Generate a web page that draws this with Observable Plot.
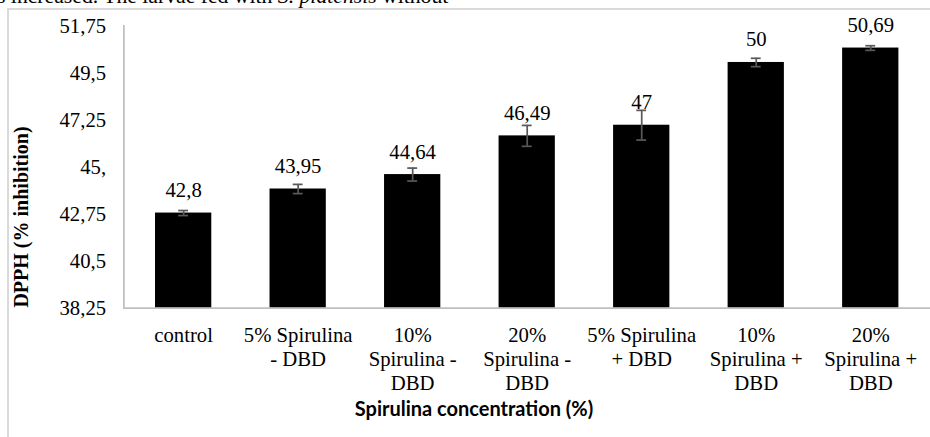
<!DOCTYPE html>
<html>
<head>
<meta charset="utf-8">
<script src="https://cdn.jsdelivr.net/npm/d3@7"></script>
<script src="https://cdn.jsdelivr.net/npm/@observablehq/plot@0.6"></script>
<style>
  html, body { margin: 0; padding: 0; width: 930px; height: 437px; overflow: hidden; background: #fff; }
  #wrap { position: relative; width: 930px; height: 437px; overflow: hidden; }
  #chart { position: absolute; left: 0; top: 0; }
  #frame { position: absolute; left: 7px; top: 8px; width: 940px; height: 440px;
           border-left: 2px solid #d9d9d9; border-top: 2px solid #d9d9d9; box-sizing: border-box; }
  #toptext { position: absolute; left: -3px; top: -14.5px; font-family: "Liberation Serif", serif;
             font-size: 21.7px; line-height: 21.7px; white-space: nowrap; color: #000; }
  #ytitle { position: absolute; left: 21px; top: 217px; transform: translate(-50%, -50%) rotate(-90deg);
            font-family: "Liberation Serif", serif; font-weight: bold; font-size: 20px; white-space: nowrap; }
  #xtitle { position: absolute; left: 474px; top: 408px; transform: translate(-50%, -50%);
            font-family: Lato, "Open Sans", sans-serif; font-weight: bold; font-size: 20px; white-space: nowrap; }
</style>
</head>
<body>
<div id="wrap">
  <div id="toptext">s increased. The larvae fed with <i>S. platensis</i> without</div>
  <div id="frame"></div>
  <div id="chart"></div>
  <div id="ytitle">DPPH (% inhibition)</div>
  <div id="xtitle">Spirulina concentration (%)</div>
</div>
<script>
const categories = ["control", "5% Spirulina - DBD", "10% Spirulina - DBD", "20% Spirulina - DBD",
                    "5% Spirulina + DBD", "10% Spirulina + DBD", "20% Spirulina + DBD"];
const categoryLabels = ["control", "5% Spirulina\n- DBD", "10%\nSpirulina -\nDBD", "20%\nSpirulina -\nDBD",
                        "5% Spirulina\n+ DBD", "10%\nSpirulina +\nDBD", "20%\nSpirulina +\nDBD"];
const values = [42.8, 43.95, 44.64, 46.49, 47, 50, 50.69];
const valueLabels = ["42,8", "43,95", "44,64", "46,49", "47", "50", "50,69"];
const errors = [0.12, 0.22, 0.31, 0.5, 0.71, 0.2, 0.11];
const yTicks = [38.25, 40.5, 42.75, 45, 47.25, 49.5, 51.75];
const yTickLabels = ["38,25", "40,5", "42,75", "45,", "47,25", "49,5", "51,75"];

const data = categories.map((c, i) => ({
  cat: c, value: values[i], label: valueLabels[i], lo: values[i] - errors[i], hi: values[i] + errors[i]
}));
const catLabel = new Map(categories.map((c, i) => [c, categoryLabels[i]]));
const yLabel = new Map(yTicks.map((t, i) => [t, yTickLabels[i]]));
const SERIF = "Liberation Serif";

const chart = Plot.plot({
  width: 942,
  height: 437,
  marginLeft: 125,
  marginRight: 0,
  marginTop: 25.7,
  marginBottom: 125.3,
  style: { fontFamily: SERIF, fontSize: "21px", color: "#000", background: "transparent" },
  x: { domain: categories, paddingInner: 0.505, paddingOuter: 0.2525, label: null },
  y: { domain: [38.25, 51.75], label: null },
  marks: [
    Plot.barY(data, { x: "cat", y1: 38.25, y2: "value", fill: "#000" }),
    Plot.ruleX(data, { x: "cat", y1: "lo", y2: "hi", stroke: "#595959", strokeWidth: 1.75 }),
    Plot.tickY(data, { x: "cat", y: "lo", stroke: "#595959", strokeWidth: 1.75, insetLeft: 23.5, insetRight: 23.5 }),
    Plot.tickY(data, { x: "cat", y: "hi", stroke: "#595959", strokeWidth: 1.75, insetLeft: 23.5, insetRight: 23.5 }),
    Plot.text(data, { x: "cat", y: "value", text: "label", dy: -23, fontSize: 21, fontFamily: SERIF, fill: "#000" }),
    Plot.frame({ anchor: "left", stroke: "#bfbfbf", strokeWidth: 1.75 }),
    Plot.frame({ anchor: "bottom", stroke: "#bfbfbf", strokeWidth: 1.75 }),
    Plot.axisY({ ticks: yTicks, tickSize: 0, tickPadding: 18, tickFormat: d => yLabel.get(d), fontSize: 21, fontFamily: SERIF, label: null }),
    Plot.axisX({ tickSize: 0, tickPadding: 17, tickFormat: d => catLabel.get(d), fontSize: 21, fontFamily: SERIF, lineHeight: 1.157, label: null })
  ]
});
document.getElementById("chart").appendChild(chart);
</script>
</body>
</html>
